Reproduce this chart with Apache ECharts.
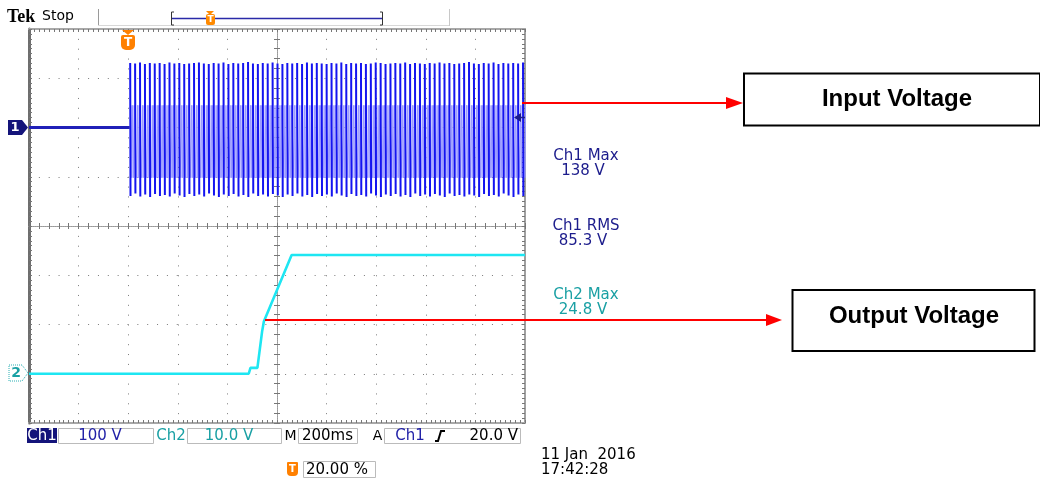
<!DOCTYPE html>
<html><head><meta charset="utf-8">
<script src="https://cdn.jsdelivr.net/npm/echarts@6/dist/echarts.min.js"></script>
<style>html,body{margin:0;padding:0;background:#fff}#c{width:1040px;height:479px}</style>
</head><body><div id="c"></div>
<script>
// ---- data ----
const timeRangeMs = [-400, 1600];          // 200 ms/div, trigger at 20 %
const ch1RangeV = [-600, 200];             // 100 V/div, ground 2 div below top
const ch2RangeV = [-10, 70];               // 10 V/div, ground 1 div above bottom
const ch1PreTriggerMs = [-400, 0, 6];
const ch1PreTriggerV = [0, 0, 0];
const ch1FirstCycleMs = 8;
const ch1PeriodMs = 19.8;
const ch1Peaks = [
  131,130,132,129,131,130,131,129,132,130,
  131,129,130,131,132,130,129,131,130,132,
  129,131,130,131,133,130,129,131,130,132,
  130,129,131,130,131,129,132,130,131,130,
  129,131,130,132,129,131,130,131,129,130,
  132,131,129,130,131,130,132,129,131,130,
  129,131,130,132,130,131,129,130,131,133,
  130,129,131,130,132,129,131,130,131,130,
  132];
const ch1Troughs = [
  -139,-134,-140,-136,-141,-135,-139,-137,-140,-134,
  -138,-141,-135,-139,-136,-140,-134,-138,-141,-136,
  -139,-135,-140,-137,-141,-134,-139,-136,-140,-135,
  -138,-141,-136,-139,-134,-140,-137,-141,-135,-139,
  -136,-140,-134,-138,-141,-135,-139,-137,-140,-134,
  -138,-141,-136,-139,-135,-140,-137,-141,-134,-139,
  -136,-140,-135,-138,-141,-134,-139,-137,-140,-136,
  -138,-141,-135,-139,-137,-140,-134,-138,-141,-136,
  -139];
const ch1BandTopV = 45;
const ch1BandBottomV = -102;
const ch2TimeMs = [-400, 486, 493, 521, 540, 547, 659, 1600];
const ch2Volts  = [0, 0, 1.2, 1.2, 8.6, 10.6, 24.1, 24.1];
const measureLabels = ['Ch1 Max', 'Ch1 RMS', 'Ch2 Max'];
const measureValues = ['138 V', '85.3 V', '24.8 V'];
const statusTexts = ['Ch1', '100 V', 'Ch2', '10.0 V', 'M', '200ms', 'A', 'Ch1', '20.0 V'];
const triggerPosText = '20.00 %';
const dateText = '11 Jan  2016';
const timeText = '17:42:28';
const annotations = ['Input Voltage', 'Output Voltage'];

// ---- build series data ----
const pre = ch1PreTriggerMs.map((t, i) => [t, ch1PreTriggerV[i]]);
const dark = [], band = [];
const nCycles = Math.min(ch1Peaks.length, ch1Troughs.length);
const bandFractions = [0.18, 0.34, 0.5, 0.66, 0.82];
for (let i = 0; i < nCycles; i++) {
  const t = ch1FirstCycleMs + i * ch1PeriodMs;
  dark.push([t, ch1Peaks[i]], [t + 1.3, ch1Troughs[i]], [t + 1.4, null]);
  bandFractions.forEach((f, k) => {
    band.push([t + f * ch1PeriodMs, (k % 2 === 0) ? ch1BandTopV : ch1BandBottomV]);
  });
}
const ch2 = ch2TimeMs.map((t, i) => [t, ch2Volts[i]]);

const NAVY = '#1c1c8c', BLUE = '#1414f0', LIGHT = '#9a9aff', CYAN = '#1ee6f2', TEAL = '#1aa0a4';
const DOT = '#7a7a7a';
const font = (s, w) => (w || '') + ' ' + s + 'px "DejaVu Sans"';

function ruler(pos, isX, min, max) {
  return {
    type: 'value', min, max, interval: 0.1, position: pos,
    axisLine: { show: true, onZero: false, lineStyle: { color: isX ? '#a8a8a8' : (pos === 'left' ? '#6e6e6e' : '#a0a0a0'), width: pos === 'left' ? 3 : 2 } },
    axisTick: { show: true, inside: true, length: 3, lineStyle: { color: '#777' } },
    axisLabel: { show: false }, splitLine: { show: false }
  };
}
function center(pos, inside, min, max, zeroIdx) {
  return {
    type: 'value', min, max, interval: 0.2, position: pos,
    axisLine: { show: true, onZero: true, onZeroAxisIndex: zeroIdx, lineStyle: { color: '#999', width: 1, type: [1, 1] } },
    axisTick: { show: true, inside, length: 3, lineStyle: { color: '#777' } },
    axisLabel: { show: false }, splitLine: { show: false }
  };
}

const option = {
  animation: false,
  backgroundColor: '#fff',
  grid: { left: 29, top: 29, width: 496, height: 394, containLabel: false },
  xAxis: [
    { type: 'value', min: timeRangeMs[0], max: timeRangeMs[1], show: false },
    { type: 'value', min: 0, max: 10, interval: 1, position: 'bottom',
      axisLine: { show: false }, axisTick: { show: false }, axisLabel: { show: false },
      splitLine: { show: true, lineStyle: { color: DOT, width: 1, type: [1, 8.85] } } },
    ruler('top', true, 0, 10),
    ruler('bottom', true, 0, 10),
    center('bottom', true, -5, 5, 2),
    center('bottom', false, -5, 5, 2)
  ],
  yAxis: [
    { type: 'value', min: ch1RangeV[0], max: ch1RangeV[1], show: false },
    { type: 'value', min: ch2RangeV[0], max: ch2RangeV[1], show: false },
    { type: 'value', min: -4, max: 4, interval: 1, position: 'left',
      axisLine: { show: false }, axisTick: { show: false }, axisLabel: { show: false },
      splitLine: { show: true, lineStyle: { color: DOT, width: 1, type: [1, 8.85] } } },
    ruler('left', false, -4, 4),
    ruler('right', false, -4, 4),
    center('left', true, -4, 4, 4),
    center('left', false, -4, 4, 4)
  ],
  series: [
    { type: 'line', xAxisIndex: 0, yAxisIndex: 0, data: band, symbol: 'none', silent: true,
      lineStyle: { color: LIGHT, width: 1 }, z: 3 },
    { type: 'line', xAxisIndex: 0, yAxisIndex: 0, data: dark, symbol: 'none', silent: true, connectNulls: false,
      lineStyle: { color: BLUE, width: 2 }, z: 4 },
    { type: 'line', xAxisIndex: 0, yAxisIndex: 0, data: pre, symbol: 'none', silent: true,
      lineStyle: { color: '#2020b8', width: 3 }, z: 4 },
    { type: 'line', xAxisIndex: 0, yAxisIndex: 1, data: ch2, symbol: 'none', silent: true,
      lineStyle: { color: CYAN, width: 2.6 }, z: 4 }
  ],
  graphic: { elements: [
    // header
    { type: 'text', x: 7, y: 17, z: 100, style: { text: 'Tek', fill: '#000', font: 'bold 18px "Liberation Serif"', textVerticalAlign: 'middle', verticalAlign: 'middle' } },
    { type: 'text', x: 42, y: 16, z: 100, style: { text: 'Stop', fill: '#000', font: font(14), textVerticalAlign: 'middle', verticalAlign: 'middle' } },
    { type: 'line', z: 100, shape: { x1: 98.5, y1: 9, x2: 98.5, y2: 26 }, style: { stroke: '#9a9a9a', lineWidth: 1 } },
    { type: 'line', z: 100, shape: { x1: 449.5, y1: 9, x2: 449.5, y2: 26 }, style: { stroke: '#c8c8c8', lineWidth: 1 } },
    { type: 'line', z: 100, shape: { x1: 98, y1: 25.5, x2: 449, y2: 25.5 }, style: { stroke: '#d8d8d8', lineWidth: 1 } },
    { type: 'line', z: 100, shape: { x1: 171, y1: 18.5, x2: 383, y2: 18.5 }, style: { stroke: '#2a2aa8', lineWidth: 1.3 } },
    { type: 'polyline', z: 100, shape: { points: [[174, 12], [171.5, 12], [171.5, 25], [174, 25]] }, style: { stroke: '#333', lineWidth: 1, fill: null } },
    { type: 'polyline', z: 100, shape: { points: [[380, 12], [382.5, 12], [382.5, 25], [380, 25]] }, style: { stroke: '#333', lineWidth: 1, fill: null } },
    { type: 'polygon', z: 101, shape: { points: [[206, 11], [214, 11], [210, 15]] }, style: { fill: '#ff8a00' } },
    { type: 'rect', z: 101, shape: { x: 206, y: 14, width: 9, height: 11, r: 2 }, style: { fill: '#ff8a00' } },
    { type: 'text', z: 102, x: 210.5, y: 19.5, style: { text: 'T', fill: '#fff', font: 'bold 9px "DejaVu Sans"', textAlign: 'center', textVerticalAlign: 'middle', verticalAlign: 'middle' } },
    // trigger position marker
    { type: 'polygon', z: 101, shape: { points: [[122, 30], [134, 30], [128, 35]] }, style: { fill: '#ff8000' } },
    { type: 'rect', z: 101, shape: { x: 121, y: 35, width: 14, height: 15, r: [2, 2, 5, 5] }, style: { fill: '#ff8000' } },
    { type: 'text', z: 102, x: 128, y: 42.5, style: { text: 'T', fill: '#fff', font: 'bold 12px "DejaVu Sans"', textAlign: 'center', textVerticalAlign: 'middle', verticalAlign: 'middle' } },
    // channel ground markers
    { type: 'polygon', z: 101, shape: { points: [[8, 120], [22, 120], [28, 127.5], [22, 135], [8, 135]] }, style: { fill: '#14147a' } },
    { type: 'text', z: 102, x: 15, y: 128, style: { text: '1', fill: '#fff', font: 'bold 13px "DejaVu Sans"', textAlign: 'center', textVerticalAlign: 'middle', verticalAlign: 'middle' } },
    { type: 'polygon', z: 101, shape: { points: [[9, 365], [22, 365], [28, 373], [22, 381], [9, 381]] }, style: { fill: '#fff', stroke: '#2cb0b4', lineWidth: 1, lineDash: [1, 1] } },
    { type: 'text', z: 102, x: 16, y: 373.5, style: { text: '2', fill: TEAL, font: 'bold 14px "DejaVu Sans"', textAlign: 'center', textVerticalAlign: 'middle', verticalAlign: 'middle' } },
    // trigger level arrow
    { type: 'polygon', z: 101, shape: { points: [[514, 117.5], [521, 113], [521, 122]] }, style: { fill: NAVY } },
    { type: 'line', z: 101, shape: { x1: 519, y1: 117.5, x2: 525, y2: 117.5 }, style: { stroke: NAVY, lineWidth: 1.5 } },
    // measurements
    ...measureLabels.flatMap((lab, i) => {
      const ys = [156, 226, 295][i];
      const col = i === 2 ? TEAL : NAVY;
      return [
        { type: 'text', z: 100, x: 586, y: ys, style: { text: lab, fill: col, font: font(15), textAlign: 'center', textVerticalAlign: 'middle', verticalAlign: 'middle' } },
        { type: 'text', z: 100, x: 583, y: ys + 15, style: { text: measureValues[i], fill: col, font: font(15), textAlign: 'center', textVerticalAlign: 'middle', verticalAlign: 'middle' } }
      ];
    }),
    // annotation arrows and boxes
    { type: 'line', z: 110, shape: { x1: 522, y1: 103, x2: 730, y2: 103 }, style: { stroke: '#ff0000', lineWidth: 2 } },
    { type: 'polygon', z: 110, shape: { points: [[726, 97], [743, 103], [726, 109]] }, style: { fill: '#ff0000' } },
    { type: 'rect', z: 110, shape: { x: 744, y: 73.5, width: 296, height: 52 }, style: { fill: '#fff', stroke: '#000', lineWidth: 2 } },
    { type: 'text', z: 111, x: 897, y: 99, style: { text: annotations[0], fill: '#000', font: 'bold 24px "Liberation Sans"', textAlign: 'center', textVerticalAlign: 'middle', verticalAlign: 'middle' } },
    { type: 'line', z: 110, shape: { x1: 265, y1: 320, x2: 770, y2: 320 }, style: { stroke: '#ff0000', lineWidth: 2 } },
    { type: 'polygon', z: 110, shape: { points: [[766, 314], [782, 320], [766, 326]] }, style: { fill: '#ff0000' } },
    { type: 'rect', z: 110, shape: { x: 792.5, y: 290, width: 242, height: 61 }, style: { fill: '#fff', stroke: '#000', lineWidth: 2 } },
    { type: 'text', z: 111, x: 914, y: 316, style: { text: annotations[1], fill: '#000', font: 'bold 24px "Liberation Sans"', textAlign: 'center', textVerticalAlign: 'middle', verticalAlign: 'middle' } },
    // status bar
    { type: 'rect', z: 100, shape: { x: 27, y: 428, width: 30, height: 15 }, style: { fill: '#14147a' } },
    { type: 'text', z: 101, x: 42, y: 436, style: { text: statusTexts[0], fill: '#fff', font: font(15), textAlign: 'center', textVerticalAlign: 'middle', verticalAlign: 'middle' } },
    { type: 'rect', z: 100, shape: { x: 58.5, y: 428.5, width: 95, height: 15 }, style: { fill: '#fff', stroke: '#bbb', lineWidth: 1 } },
    { type: 'text', z: 101, x: 100, y: 436, style: { text: statusTexts[1], fill: '#2222a8', font: font(15), textAlign: 'center', textVerticalAlign: 'middle', verticalAlign: 'middle' } },
    { type: 'text', z: 101, x: 171, y: 436, style: { text: statusTexts[2], fill: TEAL, font: font(15), textAlign: 'center', textVerticalAlign: 'middle', verticalAlign: 'middle' } },
    { type: 'rect', z: 100, shape: { x: 187.5, y: 428.5, width: 94, height: 15 }, style: { fill: '#fff', stroke: '#bbb', lineWidth: 1 } },
    { type: 'text', z: 101, x: 229, y: 436, style: { text: statusTexts[3], fill: TEAL, font: font(15), textAlign: 'center', textVerticalAlign: 'middle', verticalAlign: 'middle' } },
    { type: 'text', z: 101, x: 290.5, y: 436, style: { text: statusTexts[4], fill: '#000', font: font(14), textAlign: 'center', textVerticalAlign: 'middle', verticalAlign: 'middle' } },
    { type: 'rect', z: 100, shape: { x: 298.5, y: 428.5, width: 59, height: 15 }, style: { fill: '#fff', stroke: '#bbb', lineWidth: 1 } },
    { type: 'text', z: 101, x: 327.5, y: 436, style: { text: statusTexts[5], fill: '#000', font: font(15), textAlign: 'center', textVerticalAlign: 'middle', verticalAlign: 'middle' } },
    { type: 'text', z: 101, x: 377.5, y: 436, style: { text: statusTexts[6], fill: '#000', font: font(14), textAlign: 'center', textVerticalAlign: 'middle', verticalAlign: 'middle' } },
    { type: 'rect', z: 100, shape: { x: 384.5, y: 428.5, width: 136, height: 15 }, style: { fill: '#fff', stroke: '#bbb', lineWidth: 1 } },
    { type: 'text', z: 101, x: 410, y: 436, style: { text: statusTexts[7], fill: '#2222a8', font: font(15), textAlign: 'center', textVerticalAlign: 'middle', verticalAlign: 'middle' } },
    { type: 'polyline', z: 101, shape: { points: [[435, 441], [438, 441], [441, 431], [445, 431]] }, style: { stroke: '#000', lineWidth: 2, fill: null } },
    { type: 'text', z: 101, x: 518, y: 436, style: { text: statusTexts[8], fill: '#000', font: font(15), textAlign: 'right', textVerticalAlign: 'middle', verticalAlign: 'middle' } },
    { type: 'rect', z: 100, shape: { x: 287, y: 462, width: 11, height: 14, r: [1, 1, 4, 4] }, style: { fill: '#ff8000' } },
    { type: 'text', z: 101, x: 292.5, y: 469, style: { text: 'T', fill: '#fff', font: 'bold 10px "DejaVu Sans"', textAlign: 'center', textVerticalAlign: 'middle', verticalAlign: 'middle' } },
    { type: 'rect', z: 100, shape: { x: 303.5, y: 461.5, width: 72, height: 16 }, style: { fill: '#fff', stroke: '#bbb', lineWidth: 1 } },
    { type: 'text', z: 101, x: 306, y: 470, style: { text: triggerPosText, fill: '#000', font: font(15), textVerticalAlign: 'middle', verticalAlign: 'middle' } },
    { type: 'text', z: 101, x: 541, y: 455, style: { text: dateText, fill: '#000', font: font(15), textVerticalAlign: 'middle', verticalAlign: 'middle' } },
    { type: 'text', z: 101, x: 541, y: 470, style: { text: timeText, fill: '#000', font: font(15), textVerticalAlign: 'middle', verticalAlign: 'middle' } }
  ] }
};
const chart = echarts.init(document.getElementById('c'), null, { renderer: 'canvas' });
chart.setOption(option);
</script>
</body></html>
